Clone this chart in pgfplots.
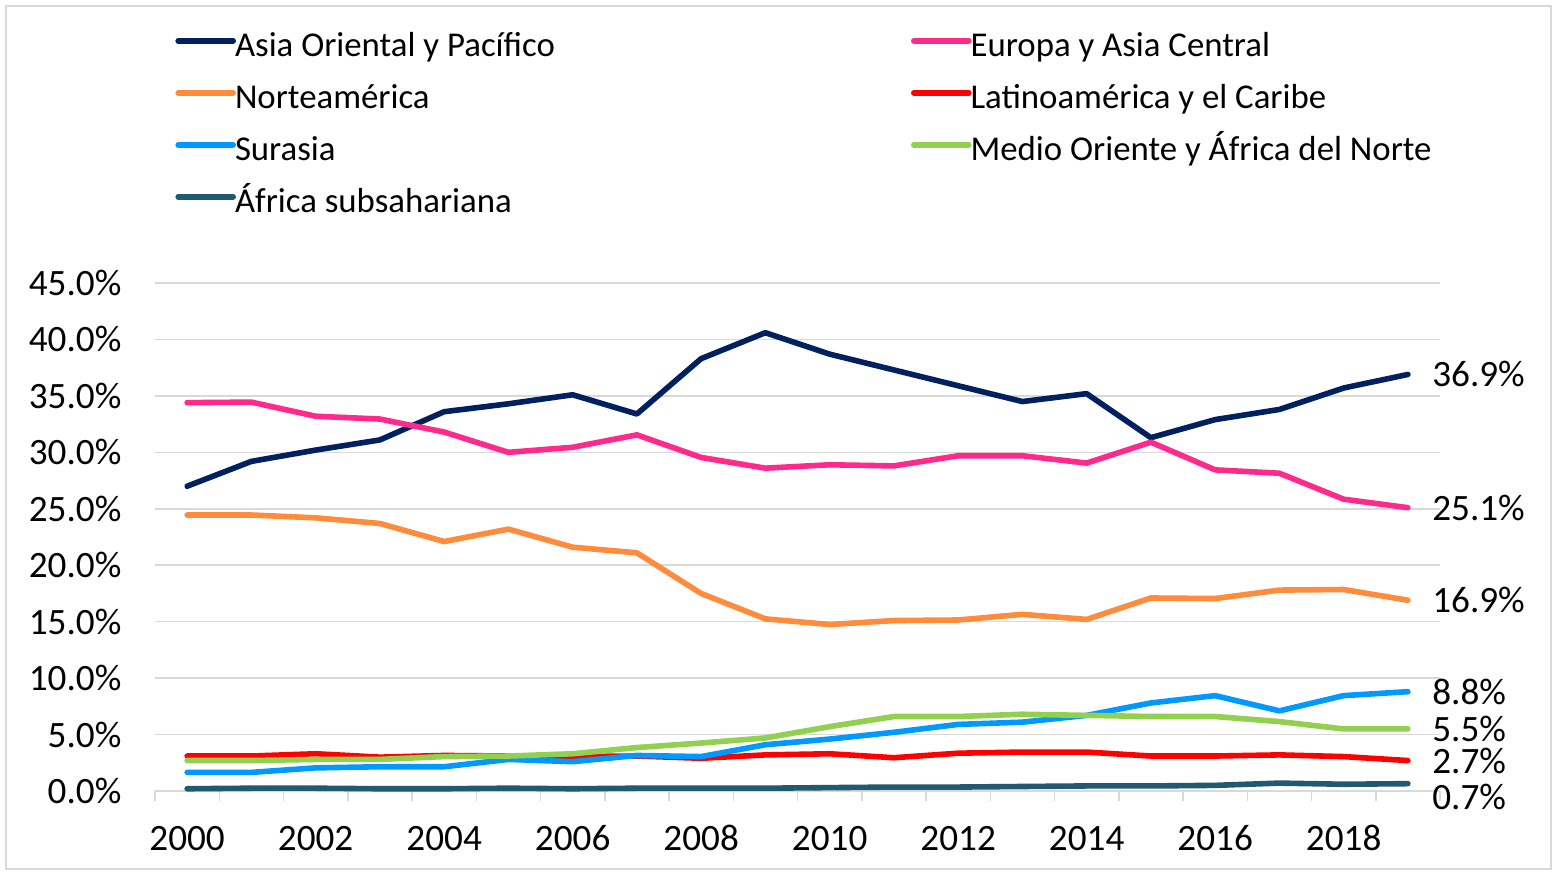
\documentclass[border=0pt]{standalone}
\usepackage{fontspec}
\setmainfont{Carlito}
\usepackage{pgfplots}
\pgfplotsset{compat=1.18}
\definecolor{gridgray}{HTML}{D9D9D9}
\definecolor{cAsia}{HTML}{002060}
\definecolor{cEuropa}{HTML}{FF2A8C}
\definecolor{cNorte}{HTML}{FF8C3C}
\definecolor{cLatino}{HTML}{FF0000}
\definecolor{cSur}{HTML}{0099FF}
\definecolor{cMedio}{HTML}{92D050}
\definecolor{cAfrica}{HTML}{215A70}
\newcommand{\lstrut}{\rule[-6.5pt]{0pt}{23.5pt}}
\begin{document}
\begin{tikzpicture}
\useasboundingbox (0,0) rectangle (778.5pt,-437.5pt);
\draw[gridgray, line width=0.75pt] (3pt,-3pt) rectangle (775.5pt,-434.5pt);
\begin{axis}[
  at={(77.5pt,-395.5pt)}, anchor=south west,
  scale only axis, width=642.5pt, height=254pt,
  xmin=-0.5, xmax=19.5, ymin=0, ymax=45,
  axis lines*=left, axis line style={-},
  x axis line style={draw=gridgray, line width=0.75pt},
  y axis line style={draw=none},
  xtick={0,2,...,18},
  xticklabels={2000,2002,2004,2006,2008,2010,2012,2014,2016,2018},
  minor xtick={-0.5,0.5,...,19.5},
  major x tick style={draw=none},
  minor x tick style={gridgray, line width=0.75pt},
  minor tick length=5pt, tick align=outside,
  ytick={0,5,...,45},
  major y tick style={draw=none},
  yticklabel={\pgfmathprintnumber[fixed,fixed zerofill,precision=1]{\tick}\%},
  ymajorgrids, grid style={gridgray, line width=0.75pt},
  /pgf/number format/assume math mode=true,
  tick label style={font=\fontsize{18.6}{20}\selectfont},
  yticklabel style={xshift=-9pt},
  xticklabel style={anchor=base, yshift=-25.5pt},
  clip=false,
  every axis plot/.append style={line width=2.8pt, line join=round, line cap=round},
  legend columns=2,
  legend style={at={(0.01556,1.514)}, anchor=north west, draw=none, fill=none,
    font=\fontsize{17.4}{20}\selectfont, inner sep=0pt,
    nodes={inner sep=0pt}, column sep=0pt, row sep=7.5pt,
    /tikz/every odd column/.style={column sep=-0.5pt}},
  legend cell align=left,
  legend image code/.code={\draw[#1] (0pt,0pt) -- (27.5pt,0pt);},
]
\addplot[cAsia] coordinates {(0,27.0)(1,29.2)(2,30.2)(3,31.1)(4,33.6)(5,34.3)(6,35.1)(7,33.4)(8,38.3)(9,40.6)(10,38.7)(11,37.3)(12,35.9)(13,34.5)(14,35.2)(15,31.3)(16,32.9)(17,33.8)(18,35.7)(19,36.9)};
\addlegendentry{\makebox[338pt][l]{\lstrut Asia Oriental y Pacífico}}
\addplot[cEuropa] coordinates {(0,34.4)(1,34.45)(2,33.2)(3,32.95)(4,31.8)(5,30.0)(6,30.45)(7,31.55)(8,29.55)(9,28.6)(10,28.9)(11,28.8)(12,29.7)(13,29.7)(14,29.05)(15,30.9)(16,28.45)(17,28.15)(18,25.85)(19,25.1)};
\addlegendentry{\lstrut Europa y Asia Central}
\addplot[cNorte] coordinates {(0,24.45)(1,24.45)(2,24.2)(3,23.7)(4,22.1)(5,23.2)(6,21.6)(7,21.1)(8,17.5)(9,15.25)(10,14.75)(11,15.1)(12,15.15)(13,15.65)(14,15.2)(15,17.1)(16,17.05)(17,17.8)(18,17.85)(19,16.9)};
\addlegendentry{\makebox[338pt][l]{\lstrut Norteamérica}}
\addplot[cLatino] coordinates {(0,3.1)(1,3.1)(2,3.3)(3,3.0)(4,3.15)(5,3.1)(6,3.05)(7,3.1)(8,2.9)(9,3.2)(10,3.3)(11,2.95)(12,3.35)(13,3.45)(14,3.45)(15,3.1)(16,3.1)(17,3.2)(18,3.05)(19,2.7)};
\addlegendentry{\lstrut Latinoamérica y el Caribe}
\addplot[cSur] coordinates {(0,1.65)(1,1.65)(2,2.05)(3,2.15)(4,2.15)(5,2.8)(6,2.6)(7,3.15)(8,3.05)(9,4.1)(10,4.6)(11,5.2)(12,5.9)(13,6.1)(14,6.7)(15,7.8)(16,8.45)(17,7.1)(18,8.45)(19,8.8)};
\addlegendentry{\makebox[338pt][l]{\lstrut Surasia}}
\addplot[cMedio] coordinates {(0,2.7)(1,2.7)(2,2.8)(3,2.8)(4,3.05)(5,3.1)(6,3.3)(7,3.85)(8,4.25)(9,4.7)(10,5.7)(11,6.6)(12,6.6)(13,6.8)(14,6.7)(15,6.6)(16,6.6)(17,6.15)(18,5.5)(19,5.5)};
\addlegendentry{\lstrut Medio Oriente y África del Norte}
\addplot[cAfrica] coordinates {(0,0.2)(1,0.25)(2,0.25)(3,0.2)(4,0.2)(5,0.25)(6,0.2)(7,0.25)(8,0.25)(9,0.25)(10,0.3)(11,0.35)(12,0.35)(13,0.4)(14,0.45)(15,0.45)(16,0.5)(17,0.7)(18,0.6)(19,0.65)};
\addlegendentry{\makebox[338pt][l]{\lstrut África subsahariana}}
\begin{scope}[every node/.style={anchor=west, inner sep=0pt, xshift=12pt, font=\fontsize{18.6}{20}\selectfont}]
\node at (axis cs:19,36.9) {36.9\%};
\node at (axis cs:19,25.1) {25.1\%};
\node at (axis cs:19,16.9) {16.9\%};
\node at (axis cs:19,8.8) {8.8\%};
\node at (axis cs:19,5.5) {5.5\%};
\node at (axis cs:19,2.7) {2.7\%};
\node[yshift=-7pt] at (axis cs:19,0.7) {0.7\%};
\end{scope}
\end{axis}
\end{tikzpicture}
\end{document}
